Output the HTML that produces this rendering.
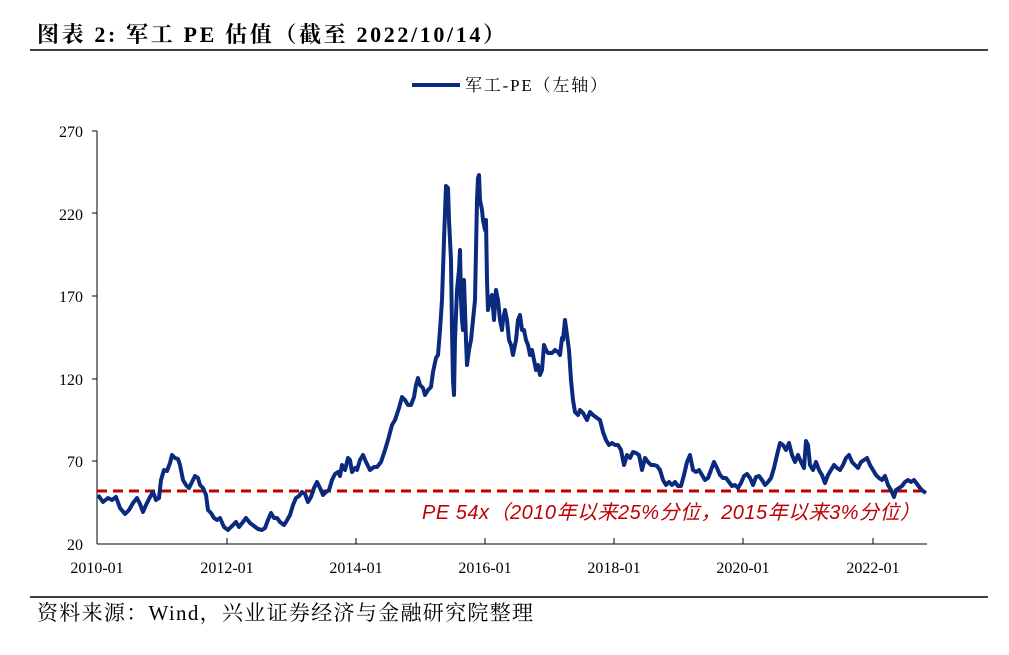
<!DOCTYPE html>
<html><head><meta charset="utf-8"><style>
body{margin:0;background:#fff;width:1009px;height:650px;overflow:hidden;font-family:"Liberation Serif","Noto Serif CJK SC",serif}
</style></head><body>
<svg width="1009" height="650" xmlns="http://www.w3.org/2000/svg">
<text x="37" y="42" font-size="22" font-weight="bold" font-family="Liberation Serif, Noto Serif CJK SC, serif" fill="#000" textLength="468" lengthAdjust="spacing">图表 2: 军工 PE 估值（截至 2022/10/14）</text>
<line x1="30" y1="50" x2="988" y2="50" stroke="#000" stroke-width="1.5"/>
<line x1="412" y1="85" x2="460" y2="85" stroke="#0a2a7e" stroke-width="4"/>
<text x="465" y="91" font-size="17" font-family="Liberation Serif, Noto Serif CJK SC, serif" textLength="142" lengthAdjust="spacing">军工-PE（左轴）</text>
<g font-size="16" font-family="Liberation Serif, serif" text-anchor="end" fill="#000">
<text x="83" y="137">270</text><text x="83" y="220">220</text><text x="83" y="302">170</text><text x="83" y="385">120</text><text x="83" y="467">70</text><text x="83" y="550">20</text>
</g>
<g stroke="#000" stroke-width="1">
<line x1="97" y1="131" x2="97" y2="544"/><line x1="97" y1="544" x2="927" y2="544"/>
<line x1="92" y1="131" x2="97" y2="131"/><line x1="92" y1="213" x2="97" y2="213"/><line x1="92" y1="296" x2="97" y2="296"/><line x1="92" y1="379" x2="97" y2="379"/><line x1="92" y1="461" x2="97" y2="461"/>
<line x1="227" y1="538" x2="227" y2="544"/><line x1="356" y1="538" x2="356" y2="544"/><line x1="485" y1="538" x2="485" y2="544"/><line x1="614" y1="538" x2="614" y2="544"/><line x1="743" y1="538" x2="743" y2="544"/><line x1="873" y1="538" x2="873" y2="544"/>
</g>
<g font-size="16" font-family="Liberation Serif, serif" text-anchor="middle">
<text x="97" y="573">2010-01</text><text x="227" y="573">2012-01</text><text x="356" y="573">2014-01</text><text x="485" y="573">2016-01</text><text x="614" y="573">2018-01</text><text x="743" y="573">2020-01</text><text x="873" y="573">2022-01</text>
</g>
<line x1="97" y1="491" x2="927" y2="491" stroke="#c00000" stroke-width="3" stroke-dasharray="10,6"/>
<polyline fill="none" stroke="#0a2a7e" stroke-width="4" stroke-linejoin="round" points="98,495 103,502 108,498 112,500 116,497 120,508 125,514 129,510 133,503 137,498 140,504 143,512 146,505 150,497 153,492 156,500 159,498 161,480 164,470 167,471 170,463 172,455 175,458 178,459 180,465 183,480 186,485 189,488 192,482 195,476 198,478 200,485 203,488 206,495 208,510 211,513 214,518 217,520 220,518 224,527 228,530 232,526 236,522 239,527 243,522 246,518 250,523 254,526 258,529 262,530 265,528 268,520 271,513 274,518 277,518 280,522 284,525 286,522 290,515 293,505 296,498 299,496 302,492 305,494 308,502 311,497 314,488 317,482 320,488 323,495 326,492 329,490 332,480 335,474 338,472 340,476 342,465 345,470 348,458 350,460 352,472 355,468 357,470 360,460 363,455 366,462 370,470 374,467 377,467 381,462 385,450 388,440 392,425 395,420 399,408 402,397 405,400 408,405 411,405 414,397 416,385 418,378 420,385 423,388 425,395 428,390 431,387 433,372 436,358 438,355 440,330 442,300 444,240 446,186 448,188 449,220 451,260 452,330 453,380 454,395 455,340 457,290 459,270 460,250 461,300 462,320 463,330 464,280 465,310 466,340 467,365 469,350 471,340 473,320 475,300 476,250 477,200 478,178 479,175 480,200 482,210 483,220 485,230 486,220 487,280 488,310 490,300 492,295 494,320 496,290 498,300 500,320 502,330 503,320 505,310 507,320 509,340 511,345 513,355 516,340 518,320 520,315 522,330 524,330 526,340 528,345 530,355 532,350 534,360 536,370 538,365 540,375 542,370 544,345 546,350 548,353 552,353 555,350 558,352 560,355 562,338 563,340 565,320 567,335 569,350 571,380 573,400 575,412 578,415 580,410 583,413 587,420 590,412 593,415 597,418 600,420 603,432 606,440 609,445 612,443 615,445 618,445 621,450 624,465 627,455 630,458 633,452 636,453 639,455 642,470 645,458 648,462 651,465 654,465 657,466 660,470 663,480 666,485 669,482 672,485 675,482 678,486 681,486 684,475 687,462 690,455 693,470 696,472 699,470 702,475 705,480 708,478 711,470 714,462 717,468 720,475 723,478 726,478 729,482 732,486 735,485 738,488 741,483 744,476 747,474 750,478 753,485 756,477 759,476 762,480 765,485 768,482 771,478 774,468 777,455 780,443 783,445 786,450 789,443 792,455 795,462 798,455 801,462 804,468 806,441 808,445 810,465 813,470 816,462 819,470 822,475 825,483 828,475 831,470 834,465 837,468 840,470 843,465 846,458 849,455 852,462 855,465 858,468 861,462 864,460 867,458 870,465 873,470 876,475 879,478 882,480 885,476 888,485 891,490 894,497 896,490 899,488 902,486 905,482 908,480 911,482 914,480 917,484 920,488 923,491 926,493"/>
<text x="422" y="519" font-size="20" font-style="italic" fill="#c00000" font-family="Liberation Sans, Noto Sans CJK SC, sans-serif" textLength="498" lengthAdjust="spacing">PE 54x（2010年以来25%分位，2015年以来3%分位）</text>
<line x1="30" y1="597" x2="988" y2="597" stroke="#000" stroke-width="1.5"/>
<text x="37" y="620" font-size="21" font-family="Liberation Serif, Noto Serif CJK SC, serif" textLength="496" lengthAdjust="spacing">资料来源：Wind，兴业证券经济与金融研究院整理</text>
</svg>
</body></html>
